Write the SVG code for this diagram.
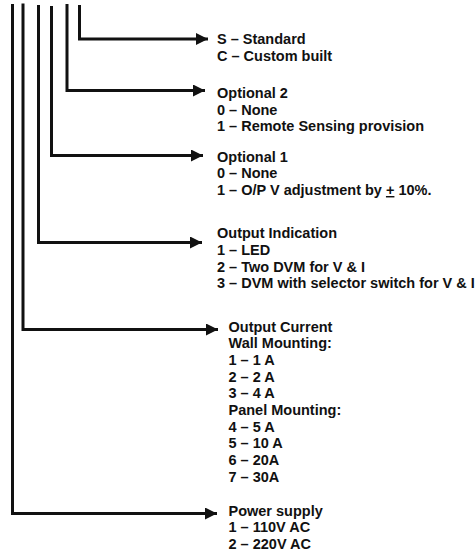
<svg xmlns="http://www.w3.org/2000/svg" width="475" height="552" viewBox="0 0 475 552">
<defs>
<marker id="ah" markerUnits="userSpaceOnUse" markerWidth="13" markerHeight="13" refX="12" refY="6" orient="auto">
<path d="M0,0 L12,6 L0,12 z" fill="#111"/>
</marker>
<style>
.c{fill:none;stroke:#111;stroke-width:3;marker-end:url(#ah)}
text{font-family:"Liberation Sans",Arial,sans-serif;font-weight:bold;font-size:14.5px;fill:#111}
</style>
</defs>
<rect width="475" height="552" fill="#fff"/>
<g id="connectors">
<path class="c" d="M79.5,5 V39 H208"/>
<path class="c" d="M67,4 V90.5 H205"/>
<path class="c" d="M51.5,6 V155.5 H203"/>
<path class="c" d="M38.5,5 V242.5 H202"/>
<path class="c" d="M23,3.5 V329.5 H218"/>
<path class="c" d="M12.5,4 V513.5 H217"/>
</g>
<g id="type">
<text x="217" y="44">S – Standard</text>
<text x="217" y="61">C – Custom built</text>
</g>
<g id="optional2">
<text x="217" y="98">Optional 2</text>
<text x="217" y="114.5">0 – None</text>
<text x="217" y="131">1 – Remote Sensing provision</text>
</g>
<g id="optional1">
<text x="217" y="161.5">Optional 1</text>
<text x="217" y="178.3">0 – None</text>
<text x="217" y="195">1 – O/P V adjustment by <tspan text-decoration="underline">+</tspan> 10%.</text>
</g>
<g id="output-indication">
<text x="217" y="238.3">Output Indication</text>
<text x="217" y="255">1 – LED</text>
<text x="217" y="271.7">2 – Two DVM for V &amp; I</text>
<text x="217" y="288.3">3 – DVM with selector switch for V &amp; I</text>
</g>
<g id="output-current">
<text x="228.5" y="331.7">Output Current</text>
<text x="228.5" y="348.3">Wall Mounting:</text>
<text x="228.5" y="365">1 – 1 A</text>
<text x="228.5" y="381.7">2 – 2 A</text>
<text x="228.5" y="398.3">3 – 4 A</text>
<text x="228.5" y="415">Panel Mounting:</text>
<text x="228.5" y="431.7">4 – 5 A</text>
<text x="228.5" y="448.3">5 – 10 A</text>
<text x="228.5" y="465">6 – 20A</text>
<text x="228.5" y="481.7">7 – 30A</text>
</g>
<g id="power-supply">
<text x="228.5" y="515.7">Power supply</text>
<text x="228.5" y="532.3">1 – 110V AC</text>
<text x="228.5" y="549">2 – 220V AC</text>
</g>
</svg>
